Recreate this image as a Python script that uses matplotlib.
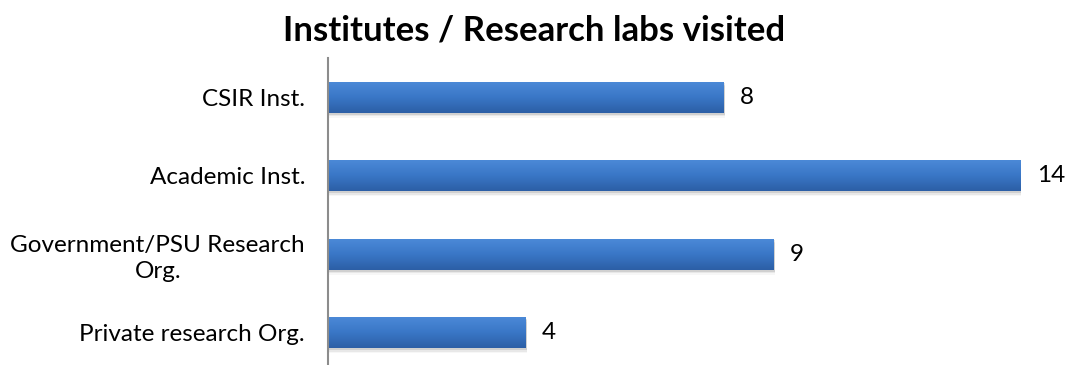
import numpy as np
import matplotlib
matplotlib.use("Agg")
import matplotlib.pyplot as plt
from matplotlib.colors import LinearSegmentedColormap
from matplotlib.patches import Rectangle

plt.rcParams['font.family'] = ['Lato', 'DejaVu Sans']

categories = ["CSIR Inst.", "Academic Inst.", "Government/PSU Research\nOrg.", "Private research Org."]
values = [8, 14, 9, 4]
title = "Institutes / Research labs visited"

fig = plt.figure(figsize=(10.69, 3.65), dpi=100)
W, H = 1069, 365
ax = fig.add_axes([328 / W, (365 - 372) / H, 693 / W, 314 / H])

n = len(categories)
ypos = np.arange(n)
bar_h = 0.40
ax.set_xlim(0, 14)
ax.set_ylim(n - 0.5, -0.5)

grad = LinearSegmentedColormap.from_list("bar", ["#4c8ad8", "#3a77c7", "#2c5fa6"])
gimg = np.linspace(0, 1, 64).reshape(-1, 1)

for y, v in zip(ypos, values):
    # soft shadow below the bar
    for k, a in enumerate([0.10, 0.06, 0.03]):
        sh = Rectangle((0, y - bar_h / 2 + 0.02 + k * 0.02), v + 0.03, bar_h,
                       facecolor="#000000", alpha=a, edgecolor="none", zorder=1)
        ax.add_patch(sh)
    rect = Rectangle((0, y - bar_h / 2), v, bar_h, facecolor="none", edgecolor="none", zorder=2)
    ax.add_patch(rect)
    im = ax.imshow(gimg, cmap=grad, aspect="auto",
                   extent=(0, v, y + bar_h / 2, y - bar_h / 2), zorder=2, interpolation="bilinear")
    im.set_clip_path(rect)
    ax.text(v + 0.32, y, str(v), va="center", ha="left", fontsize=17.5, color="#000000", clip_on=False)

ax.set_xlim(0, 14)
ax.set_ylim(n - 0.5, -0.5)
ax.set_yticks(ypos)
ax.set_yticklabels(categories, fontsize=17.5, multialignment="center", linespacing=1.3)
ax.tick_params(axis="y", length=0, pad=16.5)
ax.set_xticks([])
for s in ["top", "right", "bottom"]:
    ax.spines[s].set_visible(False)
ax.spines["left"].set_color("#8c8c8c")
ax.spines["left"].set_linewidth(1.5)

fig.text(534 / W, 1 - 30 / H, title, ha="center", va="center", fontsize=25, fontweight="bold")

fig.savefig("out.png", dpi=100)
